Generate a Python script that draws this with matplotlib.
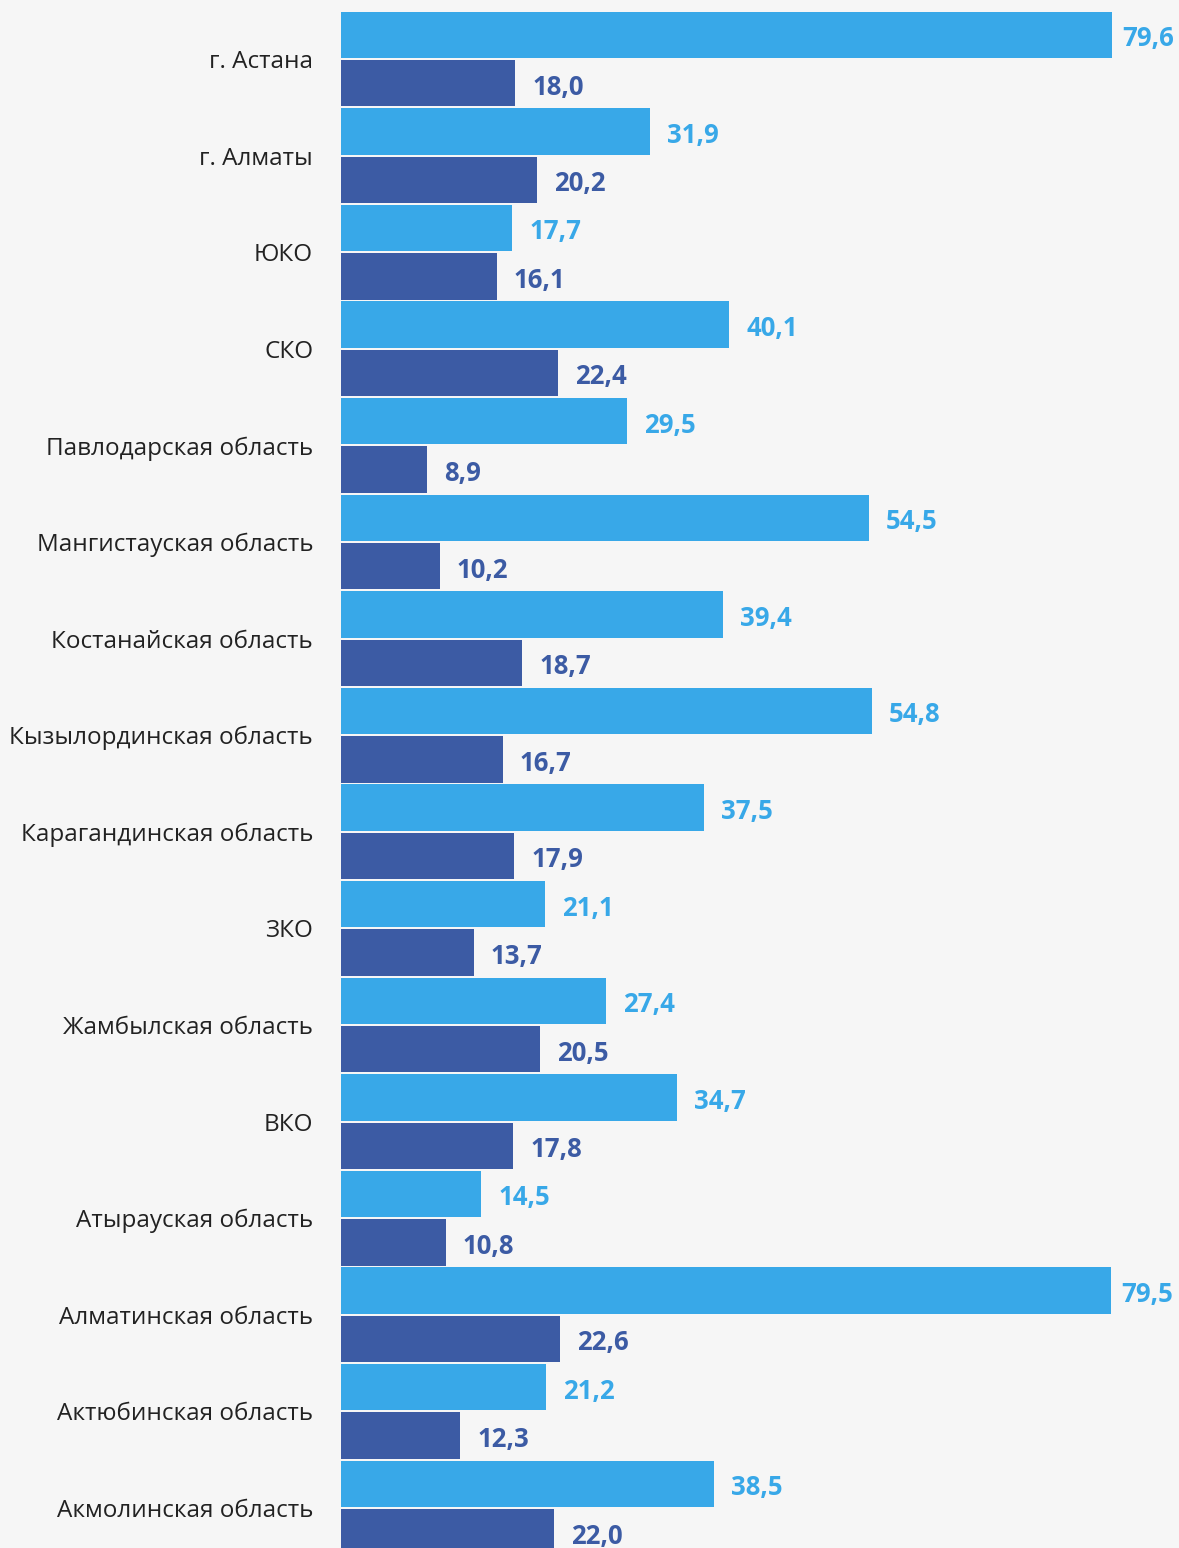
import numpy as np
import matplotlib as mpl
from matplotlib import pyplot as plt

# - Data
regions = ["г. Астана", "г. Алматы", "ЮКО", "СКО", "Павлодарская область",
           "Мангистауская область", "Костанайская область", "Кызылординская область",
           "Карагандинская область", "ЗКО", "Жамбылская область", "ВКО",
           "Атырауская область", "Алматинская область", "Актюбинская область",
           "Акмолинская область"]
series_a = [79.6, 31.9, 17.7, 40.1, 29.5, 54.5, 39.4, 54.8, 37.5, 21.1, 27.4, 34.7, 14.5, 79.5, 21.2, 38.5]
series_b = [18.0, 20.2, 16.1, 22.4, 8.9, 10.2, 18.7, 16.7, 17.9, 13.7, 20.5, 17.8, 10.8, 22.6, 12.3, 22.0]

color_a = "#38a8e8"
color_b = "#3c5ba4"
bg = "#f6f6f6"

mpl.rcParams['font.family'] = ['Open Sans', 'DejaVu Sans']

W, H = 1179, 1548
fig = plt.figure(figsize=(W/100, H/100), dpi=100, facecolor=bg)
left = 341/W
ax = fig.add_axes([left, 0, 1-left, 1])
ax.set_facecolor(bg)

y = np.arange(len(regions))
h = 0.48
ax.barh(y-0.25, series_a, height=h, color=color_a)
ax.barh(y+0.25, series_b, height=h, color=color_b)

px_per_unit = 771/79.6
ax.set_xlim(0, (W-341)/px_per_unit)
pitch = 96.6
ax.set_ylim((H-59)/pitch, -59/pitch)

def fmt(v):
    return ("%.1f" % v).replace('.', ',')

# - Value labels (pulled closer to the bar when near the right edge)
for i in range(len(regions)):
    for vals, dy, col in ((series_a, -0.25, color_a), (series_b, 0.25, color_b)):
        v = vals[i]
        off = (10 if v > 70 else 17)/px_per_unit
        ax.text(v+off, y[i]+dy+0.04, fmt(v), va='center', ha='left',
                color=col, fontsize=18.5, fontweight='bold')

ax.set_yticks(y)
ax.set_yticklabels(regions, fontsize=17.5, color="#222222")
ax.tick_params(axis='y', length=0, pad=20)
ax.set_xticks([])
for s in ax.spines.values():
    s.set_visible(False)

fig.savefig("out.png", dpi=100, facecolor=bg)
